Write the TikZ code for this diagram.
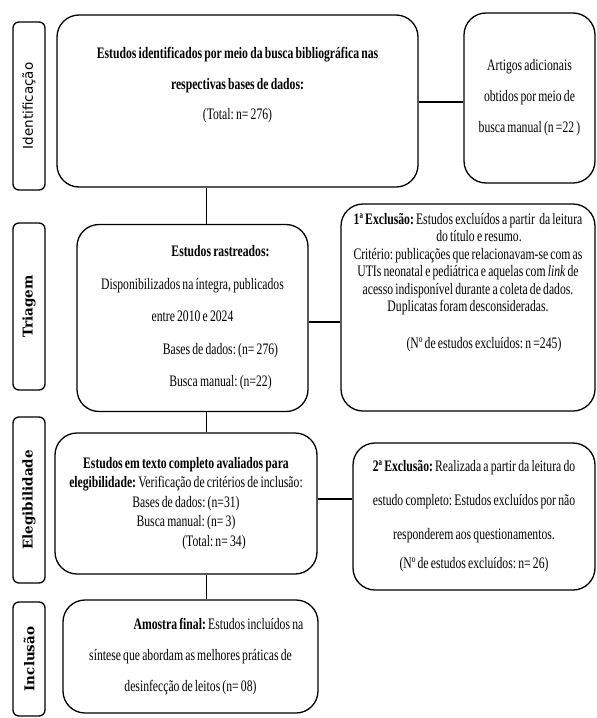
\documentclass[tikz,border=0pt]{standalone}
\usepackage{fontspec}
\setmainfont{Liberation Serif}[FakeStretch=0.73,WordSpace=0.75]
\newfontfamily\etapasans{DejaVu Sans}
\newfontfamily\etapaserif{DejaVu Serif}
\usepackage{tikz}
\frenchspacing

\tikzset{
	caixa/.style={draw, line width=1.3pt, rounded corners=22pt, inner sep=0pt, align=center},
	etapa/.style={draw, line width=1.3pt, rounded corners=6pt, rotate=90, minimum height=32pt, inner sep=0pt, font=\fontsize{13.5}{15}\selectfont},
	ligacao/.style={line width=0.9pt},
	ligforte/.style={line width=2.4pt}
}

\begin{document}
\begin{tikzpicture}[x=1pt,y=1pt,yscale=-1,xscale=1,font=\fontsize{16}{17.5}\selectfont]
	\useasboundingbox (0,0) rectangle (597,718);

	%Shape: Etapas [id:lab]
	\node[etapa, minimum width=168pt] (lab1) at (29,106) {\etapasans Identificação};
	\node[etapa, minimum width=167pt] (lab2) at (29,306.5) {\etapaserif\bfseries Triagem};
	\node[etapa, minimum width=166pt] (lab3) at (29,500) {\etapaserif\bfseries Elegibilidade};
	\node[etapa, minimum width=114pt] (lab4) at (29,659) {\etapaserif\bfseries Inclusão};

	%Shape: Rounded Rect [id:ident]
	\node[caixa, minimum width=361pt, minimum height=172pt, font=\fontsize{16}{30.5}\selectfont] (ident) at (237.5,101)
		{\textbf{Estudos identificados por meio da busca bibliográfica nas}\\\textbf{respectivas bases de dados:}\\(Total: n= 276)\\[4pt]\mbox{}};
	%Shape: Rounded Rect [id:artigos]
	\node[caixa, minimum width=131pt, minimum height=170pt, font=\fontsize{16}{31}\selectfont] (artigos) at (529.5,98)
		{Artigos adicionais\\obtidos por meio de\\busca manual (n =22 )};
	%Shape: Rounded Rect [id:rastr]
	\node[caixa, minimum width=231pt, minimum height=187pt, font=\fontsize{16}{32.5}\selectfont] (rastr) at (192.5,318)
		{\hspace*{56pt}\textbf{Estudos rastreados:}\\Disponibilizados na íntegra, publicados\\entre 2010 e 2024\\\hspace*{56pt}Bases de dados: (n= 276)\\\hspace*{56pt}Busca manual: (n=22)};
	%Shape: Rounded Rect [id:excl1]
	\node[caixa, minimum width=254pt, minimum height=207pt] (excl1) at (468,307.5)
		{\textbf{1ª Exclusão:} Estudos excluídos a partir\ \ da leitura\\\hspace*{22pt}do título e resumo.\\Critério: publicações que relacionavam-se com as\\UTIs neonatal e pediátrica e aquelas com \textit{link} de\\acesso indisponível durante a coleta de dados.\\Duplicatas foram desconsideradas.\\[19pt]\hspace*{32pt}(Nº de estudos excluídos: n =245)\\[36pt]\mbox{}};
	%Shape: Rounded Rect [id:elig]
	\node[caixa, minimum width=262pt, minimum height=141pt, font=\fontsize{16}{19.5}\selectfont] (elig) at (186,503.5)
		{\textbf{Estudos em texto completo avaliados para}\\\textbf{elegibilidade:} Verificação de critérios de inclusão:\\Bases de dados: (n=31)\\Busca manual: (n= 3)\\\hspace*{56pt}(Total: n= 34)};
	%Shape: Rounded Rect [id:excl2]
	\node[caixa, minimum width=242pt, minimum height=147pt, font=\fontsize{16}{34}\selectfont] (excl2) at (474,516.5)
		{\textbf{2ª Exclusão:} Realizada a partir da leitura do\\estudo completo: Estudos excluídos por não\\responderem aos questionamentos.\\[-5pt](Nº de estudos excluídos: n= 26)};
	%Shape: Rounded Rect [id:amostra]
	\node[caixa, minimum width=255pt, minimum height=113pt, font=\fontsize{16}{31}\selectfont] (amostra) at (190.5,656.5)
		{\hspace*{56pt}\textbf{Amostra final:} Estudos incluídos na\\síntese que abordam as melhores práticas de\\desinfecção de leitos (n= 08)};

	%Straight Lines
	\coordinate (vlinha) at (206,0);
	\draw[ligacao] (ident.south -| vlinha) -- (rastr.north -| vlinha);
	\draw[ligacao] (rastr.south -| vlinha) -- (elig.north -| vlinha);
	\draw[ligacao] (elig.south -| vlinha) -- (amostra.north -| vlinha);
	\draw[ligforte] ([yshift=1pt]ident.east) -- ([yshift=1pt]ident.east -| artigos.west);
	\draw[ligforte] ([yshift=4pt]rastr.east) -- ([yshift=4pt]rastr.east -| excl1.west);
	\draw[ligforte] ([yshift=-4.5pt]elig.east) -- ([yshift=-4.5pt]elig.east -| excl2.west);
\end{tikzpicture}
\end{document}
